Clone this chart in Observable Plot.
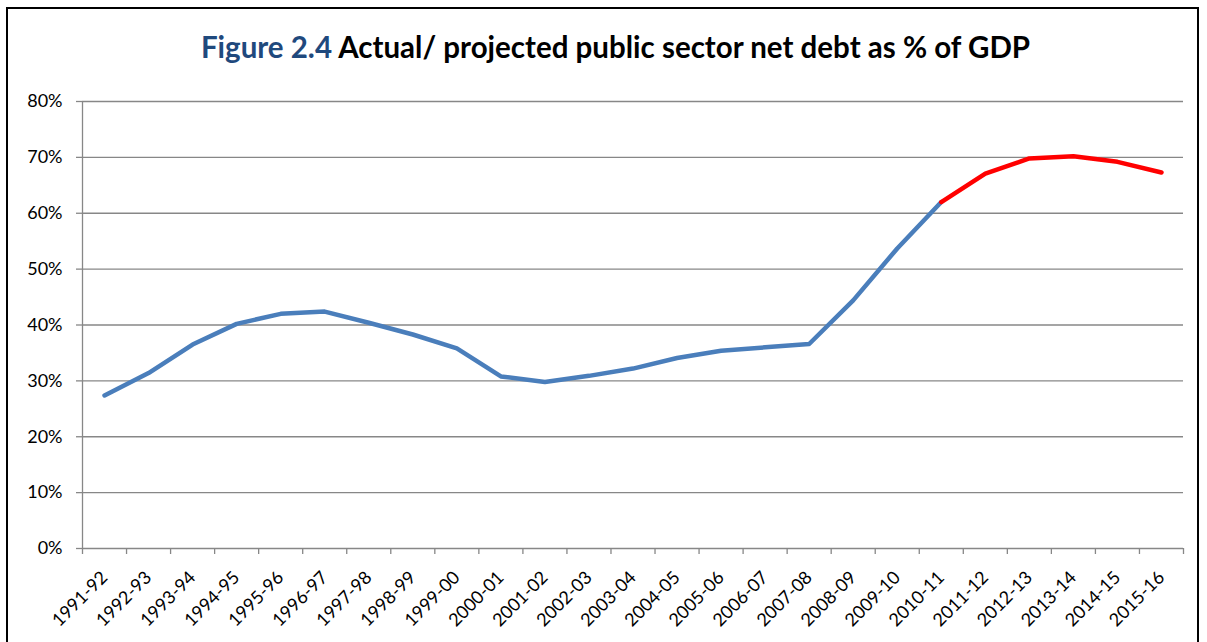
<!DOCTYPE html>
<html>
<head>
<meta charset="utf-8">
<script src="https://cdn.jsdelivr.net/npm/d3@7"></script>
<script src="https://cdn.jsdelivr.net/npm/@observablehq/plot@0.6"></script>
<style>
  html, body { margin: 0; padding: 0; background: #fff; }
  body { width: 1207px; height: 642px; overflow: hidden; position: relative; font-family: Lato, "Open Sans", sans-serif; }
  #frame { position: absolute; left: 6px; top: 7px; width: 1193px; height: 700px; border: 2px solid #000; box-sizing: border-box; }
  #title { position: absolute; left: 24px; top: 30px; width: 1183px; text-align: center; font-size: 29.5px; line-height: 34px; font-weight: bold; color: #000; white-space: nowrap; }
  #title .fig { color: #1F497D; }
  #chart { position: absolute; left: 0; top: 80px; }
</style>
</head>
<body>
<div id="frame"></div>
<div id="title"><span class="fig">Figure 2.4</span> Actual/ projected public sector net debt as % of GDP</div>
<div id="chart"></div>
<script>
const categories = ["1991-92","1992-93","1993-94","1994-95","1995-96","1996-97","1997-98","1998-99","1999-00","2000-01","2001-02","2002-03","2003-04","2004-05","2005-06","2006-07","2007-08","2008-09","2009-10","2010-11","2011-12","2012-13","2013-14","2014-15","2015-16"];
const actual = [27.4,31.4,36.5,40.2,42.0,42.4,40.4,38.3,35.8,30.8,29.8,30.9,32.2,34.1,35.4,36.0,36.6,44.4,53.7,62.0];
const projected = [62.0,67.1,69.8,70.2,69.2,67.3];
const yTicks = [0,10,20,30,40,50,60,70,80];

const actualData = actual.map((v, i) => ({i: i + 0.5, v}));
const projStart = actual.length - 1;
const projData = projected.map((v, k) => ({i: projStart + k + 0.5, v}));
const boundaries = d3.range(categories.length + 1);
const centers = categories.map((c, i) => i + 0.5);

const gridColor = "#878787";

const chart = Plot.plot({
  width: 1207,
  height: 562,
  marginTop: 21,
  marginBottom: 94,
  marginLeft: 82,
  marginRight: 24,
  style: { fontFamily: "Lato, 'Open Sans', sans-serif", fontSize: "18px", color: "#000", background: "transparent" },
  x: { type: "linear", domain: [0, categories.length], axis: null, label: null },
  y: { domain: [0, 80], axis: null, label: null },
  marks: [
    Plot.ruleY(yTicks, { stroke: gridColor, strokeWidth: 1.3 }),
    Plot.ruleX([0], { stroke: gridColor, strokeWidth: 1.3 }),
    Plot.axisY({ ticks: yTicks, tickSize: 6, tickPadding: 14, tickFormat: d => d + "%", stroke: gridColor, strokeWidth: 1.3, fill: "#000", label: null }),
    Plot.axisX({ ticks: boundaries, tickSize: 6, tickFormat: () => "", stroke: gridColor, strokeWidth: 1.3, label: null }),
    Plot.axisX({ ticks: centers, tickSize: 0, tickPadding: 26, tickRotate: -45, tickFormat: d => categories[Math.round(d - 0.5)], fill: "#000", label: null }),
    Plot.line(actualData, { x: "i", y: "v", stroke: "#4A7EBB", strokeWidth: 4.5, strokeLinejoin: "round", strokeLinecap: "round" }),
    Plot.line(projData, { x: "i", y: "v", stroke: "#FF0000", strokeWidth: 4.5, strokeLinejoin: "round", strokeLinecap: "round" })
  ]
});
document.getElementById("chart").appendChild(chart);
</script>
</body>
</html>
